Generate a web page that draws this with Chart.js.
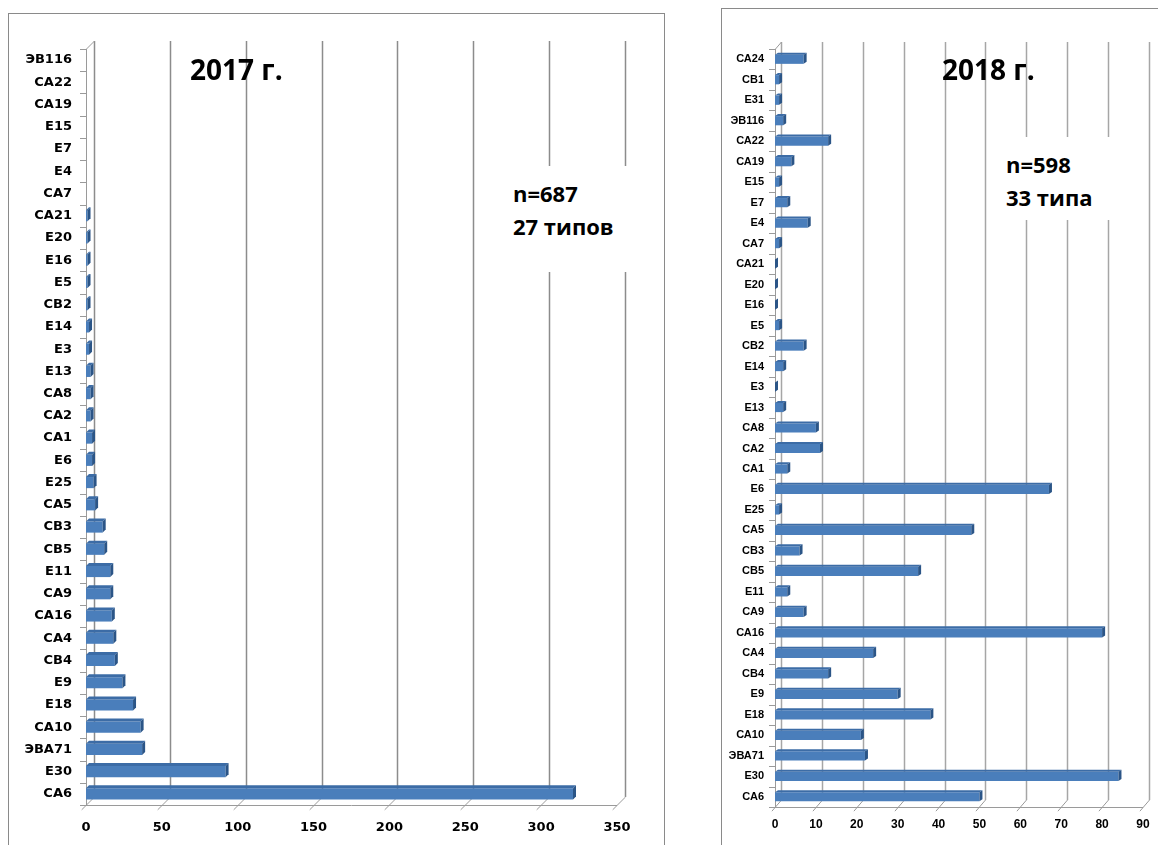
<!DOCTYPE html>
<html>
<head>
<meta charset="utf-8">
<script src="https://cdn.jsdelivr.net/npm/chart.js@4.4.1/dist/chart.umd.min.js"></script>
<style>
  body { margin: 0; background: #fff; width: 1158px; height: 845px; overflow: hidden; position: relative; font-family: "Open Sans", sans-serif; }
  .panel { position: absolute; border: 1px solid #8a8a8a; background: #fff; overflow: hidden; }
  #panel2017 { left: 8px; top: 13px; width: 655px; height: 850px; }
  #panel2018 { left: 721px; top: 8px; width: 460px; height: 855px; }
  .panel canvas { position: absolute; left: 0; top: 0; }
  .title { position: absolute; font-weight: 700; font-size: 28px; line-height: 28px; color: #000; white-space: nowrap; }
  .note { position: absolute; background: #fff; font-weight: 700; font-size: 22px; line-height: 33px; color: #000; white-space: nowrap; }
</style>
</head>
<body>
<div class="panel" id="panel2017"><canvas id="chart2017" width="655" height="840"></canvas></div>
<div class="panel" id="panel2018"><canvas id="chart2018" width="450" height="840"></canvas></div>

<div class="title" style="left:190px; top:55px;">2017 г.</div>
<div class="title" style="left:942px; top:55px;">2018 г.</div>
<div class="note" style="left:505px; top:166px; width:122px; padding:11px 0 29px 8px;">n=687<br>27 типов</div>
<div class="note" style="left:1000px; top:137px; width:124px; padding:11px 0 6px 6px;">n=598<br>33 типа</div>

<script>
// Typen von unten nach oben, wie in der Tabelle
const labels2017 = ["СА6", "Е30", "ЭВА71", "СА10", "Е18", "Е9", "СВ4", "СА4", "СА16", "СА9", "Е11", "СВ5", "СВ3", "СА5", "Е25", "Е6", "СА1", "СА2", "СА8", "Е13", "Е3", "Е14", "СВ2", "Е5", "Е16", "Е20", "СА21", "СА7", "Е4", "Е7", "Е15", "СА19", "СА22", "ЭВ116"];
const values2017 = [321, 92, 37, 36, 31, 24, 19, 18, 17, 16, 16, 12, 11, 6, 5, 4, 4, 3, 3, 3, 2, 2, 1, 1, 1, 1, 1, null, null, null, null, null, null, null];

const labels2018 = ["СА6", "Е30", "ЭВА71", "СА10", "Е18", "Е9", "СВ4", "СА4", "СА16", "СА9", "Е11", "СВ5", "СВ3", "СА5", "Е25", "Е6", "СА1", "СА2", "СА8", "Е13", "Е3", "Е14", "СВ2", "Е5", "Е16", "Е20", "СА21", "СА7", "Е4", "Е7", "Е15", "СА19", "СА22", "ЭВ116", "Е31", "СВ1", "СА24"];
const values2018 = [50, 84, 22, 21, 38, 30, 13, 24, 80, 7, 3, 35, 6, 48, 1, 67, 3, 11, 10, 2, 0, 2, 7, 1, 0, 0, 0, 1, 8, 3, 1, 4, 13, 2, 1, 1, 7];

const axis2017 = { max: 350, step: 50 };
const axis2018 = { max: 90, step: 10 };

const barFace = "#4a7ebb";
const barTop = "#3c6ca6";
const barSide = "#2b5587";

// Plugin für den 3D-Look: Rückwand, Boden und Balkenkanten
function chart3d(dx, dy, barDx, barDy, gridColor) {
  return {
    id: "chart3d",
    beforeDatasetsDraw(chart) {
      const { ctx, chartArea: a, scales } = chart;
      const x = scales.x;
      ctx.save();

      // Gitterlinien auf der Rückwand
      ctx.lineWidth = 1.5;
      ctx.strokeStyle = gridColor;
      x.ticks.forEach((t) => {
        const px = Math.round(x.getPixelForValue(t.value)) + 0.5;
        ctx.beginPath();
        ctx.moveTo(px + dx, a.top - dy);
        ctx.lineTo(px + dx, a.bottom - dy);
        ctx.stroke();
      });

      ctx.lineWidth = 1;
      ctx.strokeStyle = "#9a9a9a";
      // Boden: Diagonalen und Striche unter der Achse
      x.ticks.forEach((t) => {
        const px = Math.round(x.getPixelForValue(t.value)) + 0.5;
        ctx.beginPath();
        ctx.moveTo(px - dx * 0.6, a.bottom + dy * 0.6);
        ctx.lineTo(px + dx, a.bottom - dy);
        ctx.stroke();
      });
      ctx.beginPath();
      ctx.moveTo(a.left, a.bottom + 0.5);
      ctx.lineTo(a.right, a.bottom + 0.5);
      ctx.stroke();

      // linke Wand
      ctx.beginPath();
      ctx.moveTo(a.left + 0.5, a.bottom);
      ctx.lineTo(a.left + 0.5, a.top);
      ctx.lineTo(a.left + dx + 0.5, a.top - dy);
      ctx.stroke();

      // Striche zwischen den Kategorien
      const n = chart.data.labels.length;
      const band = (a.bottom - a.top) / n;
      ctx.beginPath();
      for (let i = 0; i <= n; i++) {
        const yy = Math.round(a.top + i * band) + 0.5;
        ctx.moveTo(a.left - 6, yy);
        ctx.lineTo(a.left, yy);
      }
      ctx.stroke();
      ctx.restore();
    },
    afterDatasetsDraw(chart) {
      const ctx = chart.ctx;
      const values = chart.data.datasets[0].data;
      ctx.save();
      chart.getDatasetMeta(0).data.forEach((bar, i) => {
        if (values[i] === null) return;
        const { x, y, base, height } = bar.getProps(["x", "y", "base", "height"], true);
        const top = y - height / 2;
        const bottom = y + height / 2;

        ctx.fillStyle = barTop;
        ctx.beginPath();
        ctx.moveTo(base, top);
        ctx.lineTo(x, top);
        ctx.lineTo(x + barDx, top - barDy);
        ctx.lineTo(base + barDx, top - barDy);
        ctx.closePath();
        ctx.fill();

        ctx.fillStyle = barSide;
        ctx.beginPath();
        ctx.moveTo(x, top);
        ctx.lineTo(x + barDx, top - barDy);
        ctx.lineTo(x + barDx, bottom - barDy);
        ctx.lineTo(x, bottom);
        ctx.closePath();
        ctx.fill();
      });
      ctx.restore();
    },
  };
}

function renderChart(canvasId, labels, values, axis, cfg) {
  const ctx = document.getElementById(canvasId);
  new Chart(ctx, {
    type: "bar",
    data: {
      labels: labels,
      datasets: [
        {
          data: values,
          backgroundColor: barFace,
          borderWidth: 0,
          barPercentage: cfg.barPercentage,
          categoryPercentage: 1,
        },
      ],
    },
    options: {
      indexAxis: "y",
      responsive: false,
      animation: false,
      layout: { padding: cfg.padding },
      plugins: { legend: { display: false }, tooltip: { enabled: false } },
      scales: {
        x: {
          min: 0,
          max: axis.max,
          grid: { display: false, drawTicks: false },
          border: { display: false },
          ticks: {
            stepSize: axis.step,
            padding: cfg.xPad,
            color: "#000",
            font: { family: cfg.font, weight: "bold", size: cfg.tickSize },
          },
          afterFit(scale) {
            scale.height = 30;
          },
        },
        y: {
          reverse: true,
          grid: { display: false, drawTicks: false },
          border: { display: false },
          ticks: {
            autoSkip: false,
            padding: cfg.yPad,
            color: "#000",
            font: { family: cfg.font, weight: "bold", size: cfg.labelSize },
          },
          afterFit(scale) {
            scale.width = cfg.yWidth;
          },
        },
      },
    },
    plugins: [chart3d(cfg.dx, cfg.dy, cfg.barDx, cfg.barDy, cfg.grid)],
  });
}

renderChart("chart2017", labels2017, values2017, axis2017, {
  font: "'DejaVu Sans', Verdana, sans-serif",
  labelSize: 13,
  tickSize: 13,
  padding: { left: 8, right: 47, top: 35, bottom: 19 },
  yWidth: 69,
  xPad: 15,
  yPad: 14,
  barPercentage: 0.5,
  dx: 8,
  dy: 8,
  barDx: 3,
  barDy: 3,
  grid: "#8c8c8c",
});

renderChart("chart2018", labels2018, values2018, axis2018, {
  font: "'Liberation Sans Narrow', 'Liberation Sans', sans-serif",
  labelSize: 11,
  tickSize: 12,
  padding: { left: 4, right: 29, top: 40, bottom: 12 },
  yWidth: 49,
  xPad: 10,
  yPad: 11,
  barPercentage: 0.45,
  dx: 6,
  dy: 7,
  barDx: 3,
  barDy: 2,
  grid: "#a6a6a6",
});
</script>
</body>
</html>
